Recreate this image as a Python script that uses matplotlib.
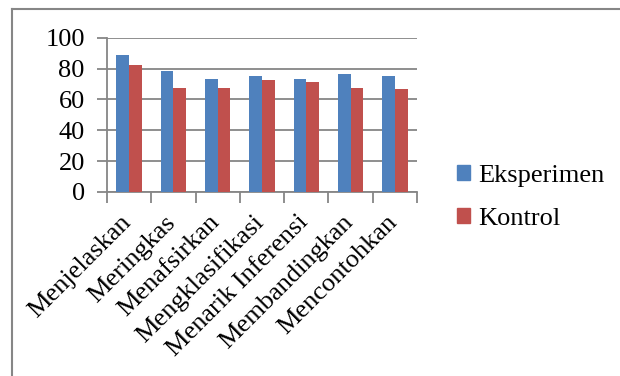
import matplotlib
matplotlib.use("Agg")
import matplotlib.pyplot as plt
import matplotlib.transforms as mtransforms
import numpy as np
from matplotlib.lines import Line2D
from matplotlib.patches import Patch

categories = ["Menjelaskan", "Meringkas", "Menafsirkan", "Mengklasifikasi",
              "Menarik Inferensi", "Membandingkan", "Mencontohkan"]
eksperimen = [88.8, 78.6, 73.4, 75.4, 73.2, 76.5, 75.4]
kontrol = [82.3, 67.4, 67.2, 72.6, 71.3, 67.4, 67.0]
yticks = [0, 20, 40, 60, 80, 100]
series_names = ["Eksperimen", "Kontrol"]

blue = "#4F81BD"
red = "#C0504D"
grid_c = "#868686"

plt.rcParams['font.family'] = ['Liberation Serif', 'DejaVu Serif']

fig = plt.figure(figsize=(6.2, 3.76), dpi=100)
ax = fig.add_axes([107/620, 1-192/376, 310/620, 154.3/376])

x = np.arange(len(categories))
w = 1/3.5
ax.bar(x - w/2, eksperimen, width=w, color=blue, zorder=3)
ax.bar(x + w/2, kontrol, width=w, color=red, zorder=3)

ax.set_xlim(-0.5, len(categories) - 0.5)
ax.set_ylim(0, 100)
ax.set_yticks(yticks)
ax.set_yticklabels([str(v) for v in yticks], fontsize=19)
ax.yaxis.grid(True, color=grid_c, linewidth=1.3, zorder=0)
ax.set_axisbelow(True)

ax.set_xticks(np.arange(-0.5, len(categories), 1.0))
ax.set_xticklabels([])
ax.set_xticks(x, minor=True)
ax.set_xticklabels(categories, minor=True, rotation=45, ha='right', va='baseline',
                   rotation_mode='anchor', fontsize=19)
ax.tick_params(axis='x', which='minor', length=0, pad=22.5)
ax.tick_params(axis='x', which='major', length=8, color=grid_c, width=1.3)
ax.tick_params(axis='y', length=7, color=grid_c, width=1.3, pad=9)
shift = mtransforms.ScaledTranslation(3/100, 0, fig.dpi_scale_trans)
for lbl in ax.get_xticklabels(minor=True):
    lbl.set_transform(lbl.get_transform() + shift)

for s in ['top', 'right']:
    ax.spines[s].set_visible(False)
for s in ['left', 'bottom']:
    ax.spines[s].set_color(grid_c)
    ax.spines[s].set_linewidth(1.3)

handles = [Patch(color=blue), Patch(color=red)]
fig.legend(handles, series_names, loc='upper left',
           bbox_to_anchor=(457/620, 1-165/376), frameon=False, fontsize=19,
           handlelength=0.5, handleheight=0.5, handletextpad=0.3,
           labelspacing=0.78, borderaxespad=0, borderpad=0)

fig.add_artist(Line2D([12/620, 12/620], [0, 1-9/376], color=grid_c,
                      linewidth=1.5, transform=fig.transFigure))
fig.add_artist(Line2D([12/620, 1], [1-9/376, 1-9/376], color=grid_c,
                      linewidth=1.5, transform=fig.transFigure))

fig.savefig("out.png", dpi=100)
